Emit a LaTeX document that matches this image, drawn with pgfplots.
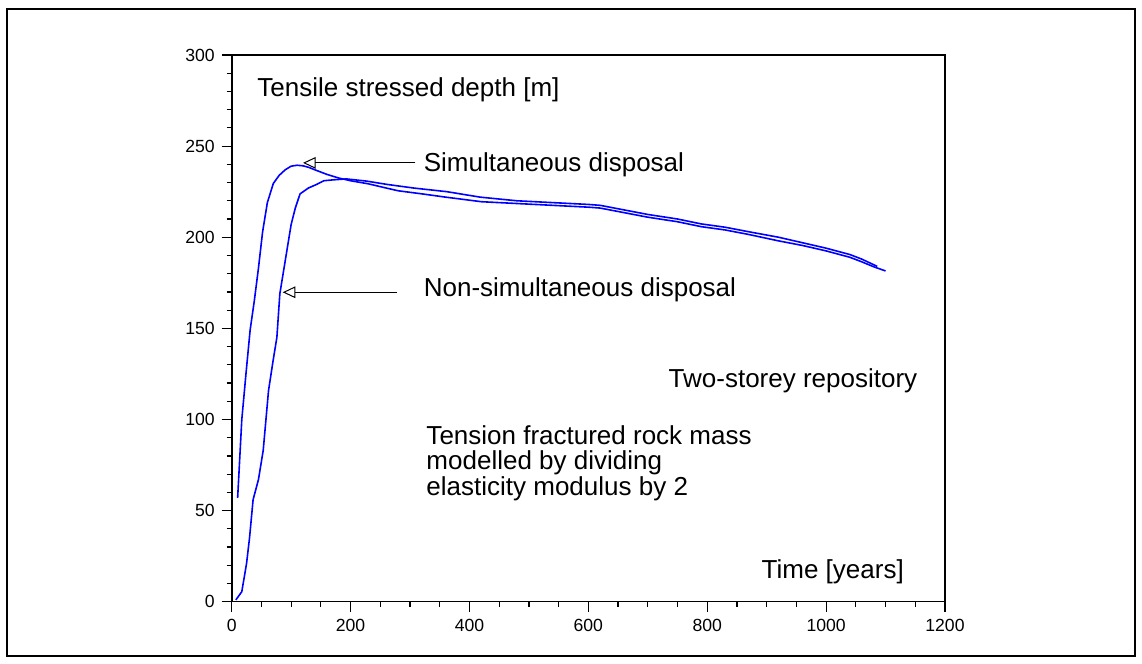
\documentclass[border=0pt]{standalone}
\usepackage{fontspec}
\setmainfont{Liberation Sans}
\usepackage{pgfplots}
\pgfplotsset{compat=1.18}
\usetikzlibrary{arrows.meta}

% Depth of the tensile stressed zone versus time (two-storey repository)
\pgfplotstableread{
t   depth
10  57
17  100
24  125
31  149
38  165
45  183
52  203
60  219
70  229.5
80  234
90  237
100 239
110 239.5
120 239.2
130 238.3
140 237
160 234.5
180 232.5
200 231
230 229.3
260 227
280 225.5
320 223.8
360 222
420 219.5
480 218.5
540 217.5
600 216.5
620 216
660 213.5
700 211
750 208.5
790 205.8
830 204
870 201.5
920 198
960 195.5
1000 192.5
1040 189
1060 186.5
1080 183.8
1100 181.5
}\simultaneous

\pgfplotstableread{
t   depth
7   1
17  5.5
25  21
30  35
36  56
45  67
53  83
62  116
70  133
76  145
81  169
87  181
93  193
100 207
107 216
115 223.8
129 227
143 229
155 231
171 231.5
193 232
227 230.8
261 229
306 227
362 225
418 222
480 220
540 219
600 218
620 217.5
660 215
700 212.5
750 210
790 207.3
830 205.5
870 203
920 200
960 197
1000 194
1040 190.5
1060 188
1086 184
}\nonsimultaneous

\begin{document}
\begin{tikzpicture}
\useasboundingbox (0,0) rectangle (571pt,-332pt);
\draw[line width=1pt] (3.5pt,-4.5pt) rectangle (567.5pt,-328pt);
\begin{axis}[
  at={(115.85pt,-300.85pt)}, anchor=south west,
  scale only axis, width=356.65pt, height=273.35pt,
  xmin=0, xmax=1200, ymin=0, ymax=300,
  xtick={0,200,...,1200}, minor x tick num=3,
  ytick={0,50,...,300}, minor y tick num=4,
  tick align=outside, tick pos=left,
  major tick length=5pt, minor tick length=2.5pt,
  every tick/.style={black, line width=0.6pt},
  axis line style={line width=0.7pt},
  tick label style={font=\fontsize{8.8}{10}\selectfont},
  /pgf/number format/assume math mode=true,
  /pgf/number format/1000 sep={},
]
\addplot[blue, line width=0.8pt, no markers] table[x=t, y=depth] {\simultaneous};
\addplot[blue, line width=0.8pt, no markers] table[x=t, y=depth] {\nonsimultaneous};

\draw[line width=1.1pt] (axis cs:0,300) -- (axis cs:0,0) -- (axis cs:1200,0);

\draw[line width=0.5pt, -{Triangle[open, length=6.3pt, width=5.8pt]}]
  (axis cs:309,240.8) -- (axis cs:120,240.8);
\draw[line width=0.5pt, -{Triangle[open, length=6.3pt, width=5.8pt]}]
  (axis cs:277.8,169.8) -- (axis cs:85.8,169.8);

\begin{scope}[every node/.style={anchor=base west, inner sep=0pt, font=\fontsize{13}{15}\selectfont}]
\node at (axis cs:42.6,277) {Tensile stressed depth [m]};
\node at (axis cs:322.6,236) {Simultaneous disposal};
\node at (axis cs:322.6,167.4) {Non-simultaneous disposal};
\node at (axis cs:734.5,117.8) {Two-storey repository};
\node at (axis cs:327,86) {Tension fractured rock mass};
\node at (axis cs:327,72.3) {modelled by dividing};
\node at (axis cs:327,58.5) {elasticity modulus by 2};
\node at (axis cs:891,13) {Time [years]};
\end{scope}
\end{axis}
\end{tikzpicture}
\end{document}
